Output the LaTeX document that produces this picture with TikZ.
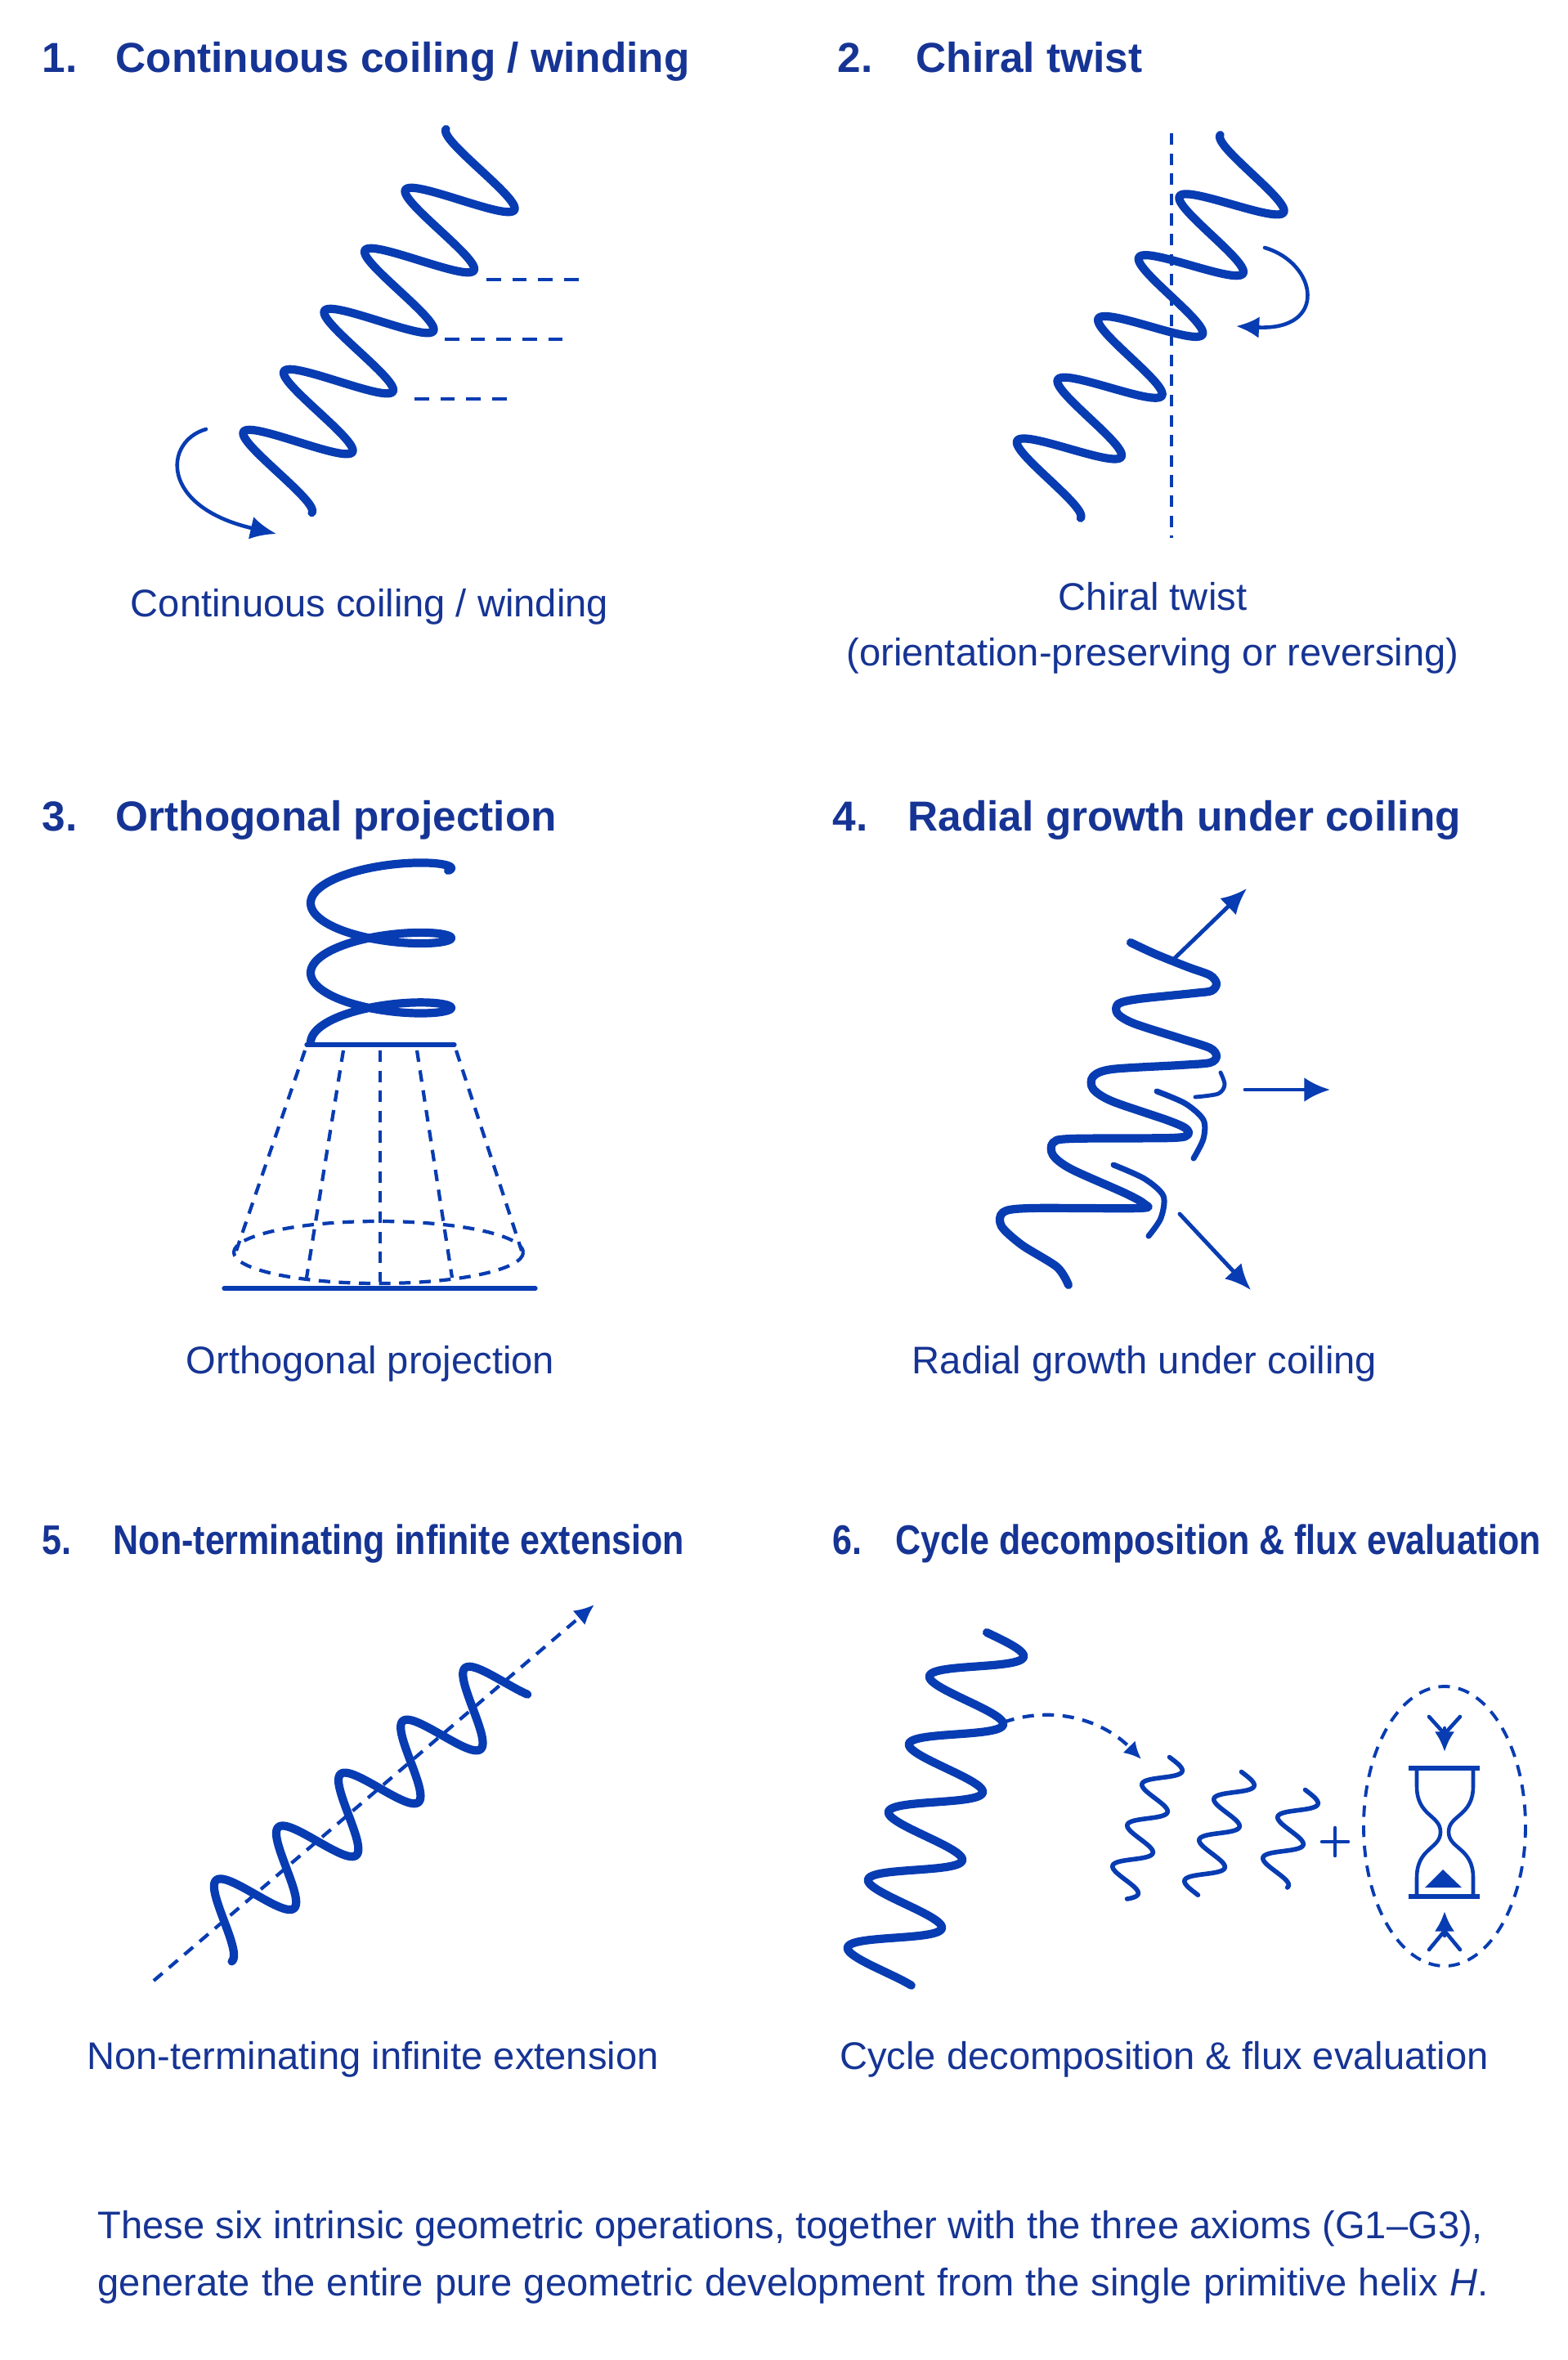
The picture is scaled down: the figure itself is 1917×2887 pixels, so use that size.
\documentclass[tikz,border=0pt]{standalone}
\usepackage{fontspec}
\setmainfont{Liberation Sans}
\newfontfamily\narrowfont{Liberation Sans}[FakeStretch=0.85]
\usepackage{tikz}
\usetikzlibrary{arrows.meta}
\definecolor{inkblue}{RGB}{8,60,178}
\definecolor{textblue}{RGB}{22,52,148}
% coil: [style] cx cy ax ay bx by t0 t1
\newcommand{\coil}[9][]{%
  \draw[coilline,#1] plot[domain=#8:#9,samples=500,variable=\t]
    ({#2+(#4)*\t+(#6)*sin(\t r)},{#3+(#5)*\t+(#7)*sin(\t r)});}

\begin{document}
\begin{tikzpicture}[x=0.01cm,y=-0.01cm,line cap=round,line join=round,
    >={Latex[length=8pt,width=7.5pt]},
    coilline/.style={draw=inkblue,line width=2.9pt},
    strand/.style={draw=inkblue,line width=2pt},
    thinline/.style={draw=inkblue,line width=1.3pt},
    dashline/.style={draw=inkblue,line width=1.2pt,line cap=butt,dash pattern=on 4pt off 3pt},
    numtitle/.style={anchor=base west,inner sep=0pt,text=textblue,font=\fontsize{14.6}{17}\selectfont\bfseries},
    smalltitle/.style={numtitle,font=\narrowfont\fontsize{14.4}{17}\selectfont\bfseries},
    caption/.style={anchor=base,inner sep=0pt,text=textblue,font=\fontsize{13.4}{16}\selectfont}]
            %
            \fill[white] (0,0) rectangle (1917,2887);
            \useasboundingbox (0,0) rectangle (1917,2887);
            %
            % titles
            \node[numtitle] (n1) at (51,88) {1.};
            \node[numtitle] (t1) at (141,88) {Continuous coiling / winding};
            \node[numtitle] (n2) at (1024,88) {2.};
            \node[numtitle] (t2) at (1120,88) {Chiral twist};
            \node[numtitle] (n3) at (51,1016) {3.};
            \node[numtitle] (t3) at (141,1016) {Orthogonal projection};
            \node[numtitle] (n4) at (1018,1016) {4.};
            \node[numtitle] (t4) at (1110,1016) {Radial growth under coiling};
            \node[smalltitle] (n5) at (51,1901) {5.};
            \node[smalltitle] (t5) at (138,1901) {Non-terminating infinite extension};
            \node[smalltitle] (n6) at (1018,1901) {6.};
            \node[smalltitle] (t6) at (1095,1901) {Cycle decomposition \& flux evaluation};
            %
            % captions
            \node[caption] (c1) at (452,754) {Continuous coiling / winding};
            \node[caption] (c2a) at (1410,746) {Chiral twist};
            \node[caption] (c2b) at (1410,814) {(orientation-preserving or reversing)};
            \node[caption] (c3) at (453,1680) {Orthogonal projection};
            \node[caption] (c4) at (1400,1680) {Radial growth under coiling};
            \node[caption] (c5) at (456,2531) {Non-terminating infinite extension};
            \node[caption] (c6) at (1424,2531) {Cycle decomposition \& flux evaluation};
            \node[caption,anchor=base west] (foot1) at (119,2738) {These six intrinsic geometric operations, together with the three axioms (G1--G3),};
            \node[caption,anchor=base west] (foot2) at (119,2808) {\makebox[17cm][s]{generate the entire pure geometric development from the single primitive helix \textit{H}.}};
            %
            % 1. coiling
            \coil{587.3}{207.5}{-7.88}{11.78}{54.1}{31}{-1.5708}{32.99}
            \draw[dashline,dash pattern=on 5pt off 4pt] (595,342) -- (709,342);
            \draw[dashline,dash pattern=on 5pt off 4pt] (544,415) -- (690,415);
            \draw[dashline,dash pattern=on 5pt off 4pt] (507,488) -- (627,488);
            \coordinate (w1s) at (252,525);
            \coordinate (w1e) at (338,653);
            \draw[thinline,->,>={Latex[length=9pt,width=8pt]}] (w1s) .. controls (200,540) and (195,620) .. (w1e);
            %
            % 2. chiral twist
            \coordinate (ax2t) at (1433,163);
            \coordinate (ax2b) at (1433,658);
            \draw[dashline,line width=1.1pt] (ax2t) -- (ax2b);
            \coil{1531.3}{212.5}{-7.9}{11.9}{51.1}{28.7}{-1.5708}{32.99}
            \coordinate (tw2s) at (1547,303);
            \coordinate (tw2e) at (1512,399);
            \draw[thinline,->] (tw2s) .. controls (1612,322) and (1625,405) .. (tw2e);
            %
            % 3. projection
            \draw[coilline] plot[domain=-0.3:15.708,samples=300,variable=\t]
                ({466+86*cos(\t r)},{1062+13.6*\t-24*sin(\t r)});
            \draw[thinline,line width=1.5pt] (375,1278) -- (556,1278);
            \draw[dashline] (373,1285) -- (289,1530);
            \draw[dashline] (420,1285) -- (375,1563);
            \draw[dashline] (465,1285) -- (465,1568);
            \draw[dashline] (510,1285) -- (553,1563);
            \draw[dashline] (558,1285) -- (638,1530);
            \draw[dashline] (463,1532) ellipse [x radius=177,y radius=38];
            \draw[thinline,line width=1.5pt] (274,1576) -- (655,1576);
            %
            % 4. radial growth
            \draw[coilline] plot[smooth,tension=0.5] coordinates {
                (1383,1153) (1413,1167) (1453,1183) (1480,1193) (1488,1203) (1482,1212)
                (1460,1215) (1393,1222) (1368,1228) (1367,1240) (1387,1252) (1443,1270)
                (1480,1282) (1488,1292) (1480,1300) (1443,1303) (1360,1308) (1337,1317)
                (1337,1332) (1360,1347) (1427,1370) (1450,1380) (1453,1388) (1433,1392)
                (1310,1393) (1288,1398) (1288,1413) (1310,1430) (1377,1460) (1400,1473)
                (1393,1478) (1260,1478) (1227,1483) (1225,1500) (1250,1523) (1293,1550)
                (1307,1572)};
            \draw[thinline,line width=1.4pt] plot[smooth] coordinates {(1493,1312) (1498,1327) (1490,1338) (1462,1342)};
            \draw[strand] plot[smooth] coordinates {(1415,1335) (1450,1350) (1472,1370) (1472,1393) (1460,1417)};
            \draw[strand] plot[smooth] coordinates {(1362,1425) (1400,1442) (1423,1463) (1420,1490) (1405,1512)};
            \coordinate (g1s) at (1437,1172);
            \coordinate (g1e) at (1525,1087);
            \coordinate (g2s) at (1523,1333);
            \coordinate (g2e) at (1627,1333);
            \coordinate (g3s) at (1443,1485);
            \coordinate (g3e) at (1530,1578);
            \draw[thinline,line width=1.4pt,->,>={Latex[length=9pt,width=8pt]}] (g1s) -- (g1e);
            \draw[thinline,line width=1.4pt,->,>={Latex[length=9pt,width=8.5pt]}] (g2s) -- (g2e);
            \draw[thinline,line width=1.4pt,->,>={Latex[length=9pt,width=8pt]}] (g3s) -- (g3e);
            %
            % 5. infinite extension
            \coordinate (ax5s) at (188,2423);
            \coordinate (ax5e) at (727,1963);
            \draw[dashline,->,>={Latex[length=7pt,width=6.5pt]}] (ax5s) -- (ax5e);
            \draw[coilline] plot[domain=88:575,samples=250,variable=\s]
                ({188+0.761*\s-0.649*44*cos(3.6*(\s-138))},{2423-0.649*\s-0.761*44*cos(3.6*(\s-138))});
            %
            % 6. decomposition and flux
            \coil{1207}{1997}{-3.98}{13.21}{51.25}{9.25}{0}{32.2}
            \coil[line width=1.6pt]{1430.5}{2149.5}{-2.86}{7.96}{20}{5}{0}{21.5}
            \coil[line width=1.6pt]{1518.5}{2167.5}{-2.86}{7.96}{20}{5}{0}{18.9}
            \coil[line width=1.6pt]{1596.5}{2189.5}{-2.86}{7.96}{20}{5}{0}{14.4}
            \coordinate (dc6s) at (1227,2107);
            \coordinate (dc6e) at (1396,2152);
            \draw[dashline,->,>={Latex[length=6pt,width=6pt]}] (dc6s) .. controls (1290,2085) and (1350,2105) .. (dc6e);
            \draw[thinline] (1617,2253) -- (1649,2253) (1633,2236) -- (1633,2270);
            \draw[dashline,line width=1.1pt] (1767,2234) ellipse [x radius=99,y radius=171];
            % hourglass
            \draw[thinline,line width=1.8pt,line cap=butt] (1723,2163) -- (1810,2163) (1723,2320) -- (1810,2320);
            \draw[thinline] (1733,2163) -- (1733,2185) .. controls (1733,2222) and (1762,2220) .. (1762,2241)
                .. controls (1762,2262) and (1733,2260) .. (1733,2297) -- (1733,2320);
            \draw[thinline] (1802,2163) -- (1802,2185) .. controls (1802,2222) and (1772,2220) .. (1772,2241)
                .. controls (1772,2262) and (1802,2260) .. (1802,2297) -- (1802,2320);
            \fill[inkblue] (1743,2309) -- (1765,2287) -- (1788,2309) -- cycle;
            \coordinate (in6t) at (1767,2114);
            \coordinate (hg6t) at (1767,2143);
            \coordinate (in6b) at (1767,2368);
            \coordinate (hg6b) at (1767,2338);
            \draw[thinline] (1748,2100) -- (1767,2121) -- (1786,2100);
            \draw[thinline,->,>={Latex[length=7pt,width=7pt]}] (in6t) -- (hg6t);
            \draw[thinline] (1748,2385) -- (1767,2362) -- (1786,2385);
            \draw[thinline,->,>={Latex[length=7pt,width=7pt]}] (in6b) -- (hg6b);
            %
        \end{tikzpicture}
\end{document}
